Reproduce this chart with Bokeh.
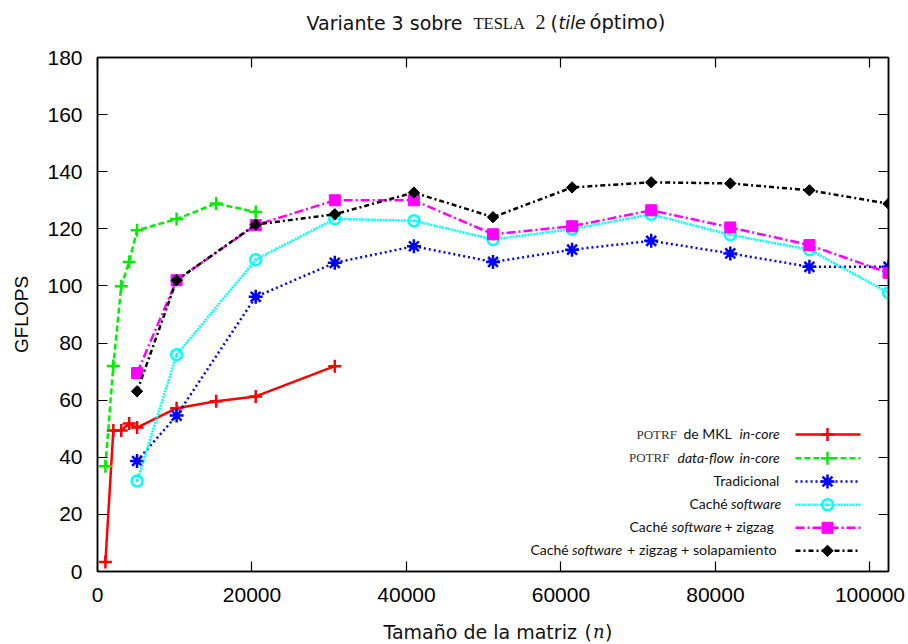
from bokeh.plotting import figure
from bokeh.layouts import column
from bokeh.models import Range1d, LinearAxis, FixedTicker, Label, BasicTickFormatter, CustomJSTickFormatter
from bokeh.core.properties import value
from bokeh.embed import file_html
from bokeh.resources import INLINE

# ---- data: GFLOPS vs matrix size n ----
n_mkl = [1024, 2048, 3072, 4096, 5120, 10240, 15360, 20480, 30720]
gflops_mkl = [3.3, 49.4, 49.4, 51.8, 50.4, 57.2, 59.6, 61.3, 71.9]

n_dataflow = [1024, 2048, 3072, 4096, 5120, 10240, 15360, 20480]
gflops_dataflow = [36.9, 72.0, 99.9, 108.4, 119.5, 123.4, 128.9, 125.9]

n_ooc = [5120, 10240, 20480, 30720, 40960, 51200, 61440, 71680, 81920, 92160, 102400]
gflops_trad = [38.7, 54.6, 96.2, 108.1, 113.9, 108.4, 112.7, 115.8, 111.4, 106.7, 106.7]
gflops_cache = [31.7, 75.9, 109.2, 123.5, 122.8, 116.3, 119.9, 125.1, 117.9, 112.7, 97.6]
gflops_zigzag = [69.5, 102.0, 121.3, 130.0, 130.0, 118.1, 120.9, 126.5, 120.5, 114.3, 104.6]
gflops_overlap = [63.1, 102.0, 121.5, 125.1, 132.7, 124.1, 134.5, 136.3, 135.9, 133.5, 128.8]

x_ticks = [0, 20000, 40000, 60000, 80000, 100000]
y_ticks = [0, 20, 40, 60, 80, 100, 120, 140, 160, 180]
X_MAX = 102400
Y_MAX = 180

# ---- page geometry (pixels) ----
W = 908
TITLE_H, MAIN_H, XLAB_H = 45, 567, 32
FL, FR = 97, 888
FT, FB = 12, 526          # frame top / bottom inside the main figure
BASELINE_SHIFT = 0.42     # alphabetic anchor correction, as a fraction of font size

SANS = "Lato"
WIDE_SANS = "DejaVu Sans"
SERIF = "Liberation Serif"
TICK_FONT = "Liberation Sans"
INK = "#111111"


def px_x(px):
    return (px - FL) / (FR - FL) * X_MAX


def px_y(py):
    # py measured on the whole page
    return (FB - (py - TITLE_H)) / (FB - FT) * Y_MAX


def size_px(size):
    return float(size.replace("px", ""))


def text_strip(height):
    """A bare figure whose data units are page pixels (y grows downward)."""
    f = figure(width=W, height=height, x_range=Range1d(FL, FR), y_range=Range1d(height, 0),
               output_backend="svg", toolbar_location=None, title=None,
               x_axis_type=None, y_axis_type=None,
               min_border_left=FL, min_border_right=W - FR, min_border_top=0, min_border_bottom=0)
    f.xgrid.visible = False
    f.ygrid.visible = False
    f.outline_line_color = None
    f.background_fill_color = "white"
    f.border_fill_color = "white"
    return f


def strip_text(f, pieces, baseline):
    for text, left, font, style, size in pieces:
        f.text(x=[left], y=[baseline - BASELINE_SHIFT * size_px(size)], text=[text],
               text_font=value(font), text_font_style=style, text_font_size=size,
               text_color=INK, text_align="left", text_baseline="alphabetic")


# ---- title ----
title_fig = text_strip(TITLE_H)
strip_text(title_fig, [
    ("Variante 3 sobre", 306, WIDE_SANS, "normal", "19px"),
    ("TESLA", 473, SERIF, "normal", "16.5px"),
    ("2", 535, SERIF, "normal", "20px"),
    ("(", 550, WIDE_SANS, "normal", "19px"),
    ("tile", 558, WIDE_SANS, "italic", "17.5px"),
    ("óptimo)", 589, WIDE_SANS, "normal", "19.5px"),
], 30)

# ---- main plot ----
p = figure(width=W, height=MAIN_H, x_range=Range1d(0, X_MAX), y_range=Range1d(0, Y_MAX),
           output_backend="svg", toolbar_location=None, title=None,
           min_border_left=FL, min_border_right=W - FR, min_border_top=FT,
           min_border_bottom=MAIN_H - FB)
p.xgrid.visible = False
p.ygrid.visible = False
p.outline_line_color = "black"
p.outline_line_width = 1.5
p.background_fill_color = "white"
p.border_fill_color = "white"

for ax in (p.xaxis[0], p.yaxis[0]):
    ax.major_tick_in = 10
    ax.major_tick_out = 0
    ax.minor_tick_in = 0
    ax.minor_tick_out = 0
    ax.axis_line_color = "black"
    ax.axis_line_width = 1.5
    ax.major_tick_line_width = 1.2
    ax.major_label_text_font = TICK_FONT
    ax.major_label_text_font_size = "21px"
    ax.major_label_text_color = "black"

p.xaxis.ticker = FixedTicker(ticks=x_ticks)
p.xaxis.formatter = BasicTickFormatter(use_scientific=False)
p.xaxis.major_label_standoff = 16
p.yaxis.ticker = FixedTicker(ticks=y_ticks)
p.yaxis.major_label_standoff = 15
p.yaxis.axis_label = "GFLOPS"
p.yaxis.axis_label_text_font = TICK_FONT
p.yaxis.axis_label_text_font_size = "19px"
p.yaxis.axis_label_text_font_style = "normal"
p.yaxis.axis_label_text_color = "black"
p.yaxis.axis_label_standoff = 12

# mirrored inward ticks on the top and right borders
blank = CustomJSTickFormatter(code="return ''")
for ticks, side in ((x_ticks, "above"), (y_ticks, "right")):
    mirror = LinearAxis(ticker=FixedTicker(ticks=ticks), formatter=blank,
                        major_tick_in=10, major_tick_out=0, minor_tick_in=0, minor_tick_out=0,
                        major_label_standoff=0, axis_line_color="black", axis_line_width=1.5,
                        major_tick_line_width=1.2)
    p.add_layout(mirror, side)

# ---- series styles ----
series = [
    dict(x=n_mkl, y=gflops_mkl, color="#ff0000", dash="solid", marker="cross", size=13, fill=False),
    dict(x=n_dataflow, y=gflops_dataflow, color="#00ee00", dash="6 3", marker="cross", size=13, fill=False),
    dict(x=n_ooc, y=gflops_trad, color="#0000ff", dash="2 3", marker="asterisk", size=14, fill=False),
    dict(x=n_ooc, y=gflops_cache, color="#00ffff", dash="2 1", marker="circle_dot", size=11, fill=False),
    dict(x=n_ooc, y=gflops_zigzag, color="#ff00ff", dash="9 3 2 3", marker="square", size=11, fill=True),
    dict(x=n_ooc, y=gflops_overlap, color="#000000", dash="5 3 2 3", marker="square", size=8, fill=True,
         angle=0.785398),
]


def draw_line(s, xs, ys):
    p.line(xs, ys, line_color=s["color"], line_width=2.5, line_dash=s["dash"])


def draw_markers(s, xs, ys):
    kw = dict(marker=s["marker"], size=s["size"], line_color=s["color"], line_width=2.5,
              angle=s.get("angle", 0.0))
    if s["fill"]:
        kw.update(fill_color=s["color"], line_width=1)
    else:
        kw.update(fill_color=None)
    p.scatter(xs, ys, **kw)


for s in series:
    draw_line(s, s["x"], s["y"])
    draw_markers(s, s["x"], s["y"])

# ---- legend (mixed-style labels, right aligned against the samples) ----
legend_rows = [
    (434.0, [("POTRF", 636, SERIF, "normal", "13px"), ("de MKL", 683, SANS, "normal", "14px"),
             ("in-core", 739, SANS, "italic", "14px")]),
    (457.7, [("POTRF", 628.5, SERIF, "normal", "13px"), ("data-flow", 677, SANS, "italic", "14px"),
             ("in-core", 739, SANS, "italic", "14px")]),
    (481.0, [("Tradicional", 713, SANS, "normal", "14px")]),
    (504.3, [("Caché", 689, SANS, "normal", "14px"), ("software", 730.5, SANS, "italic", "14px")]),
    (527.3, [("Caché", 629, SANS, "normal", "14px"), ("software", 671, SANS, "italic", "14px"),
             ("+ zigzag", 724, SANS, "normal", "14px")]),
    (550.3, [("Caché", 530, SANS, "normal", "14px"), ("software", 571.5, SANS, "italic", "14px"),
             ("+ zigzag + solapamiento", 626.5, SANS, "normal", "14.3px")]),
]

for (row_y, pieces), s in zip(legend_rows, series):
    for text, left, font, style, size in pieces:
        base = row_y + 5 - BASELINE_SHIFT * size_px(size)
        p.add_layout(Label(x=px_x(left), y=px_y(base), text=text, text_font=font,
                           text_font_style=style, text_font_size=size,
                           text_color="#333333" if font == SERIF else INK,
                           text_align="left", text_baseline="alphabetic"))
    draw_line(s, [px_x(795), px_x(860)], [px_y(row_y), px_y(row_y)])
    draw_markers(s, [px_x(827)], [px_y(row_y)])

# ---- x axis title ----
xlab_fig = text_strip(XLAB_H)
strip_text(xlab_fig, [
    ("Tamaño de la matriz", 383, WIDE_SANS, "normal", "19px"),
    ("(", 584, WIDE_SANS, "normal", "19px"),
    ("n", 592.5, "DejaVu Serif", "italic", "18px"),
    (")", 604.5, WIDE_SANS, "normal", "19px"),
], 27)

layout = column(title_fig, p, xlab_fig, spacing=0)
open("out.html", "w").write(file_html(layout, INLINE))
